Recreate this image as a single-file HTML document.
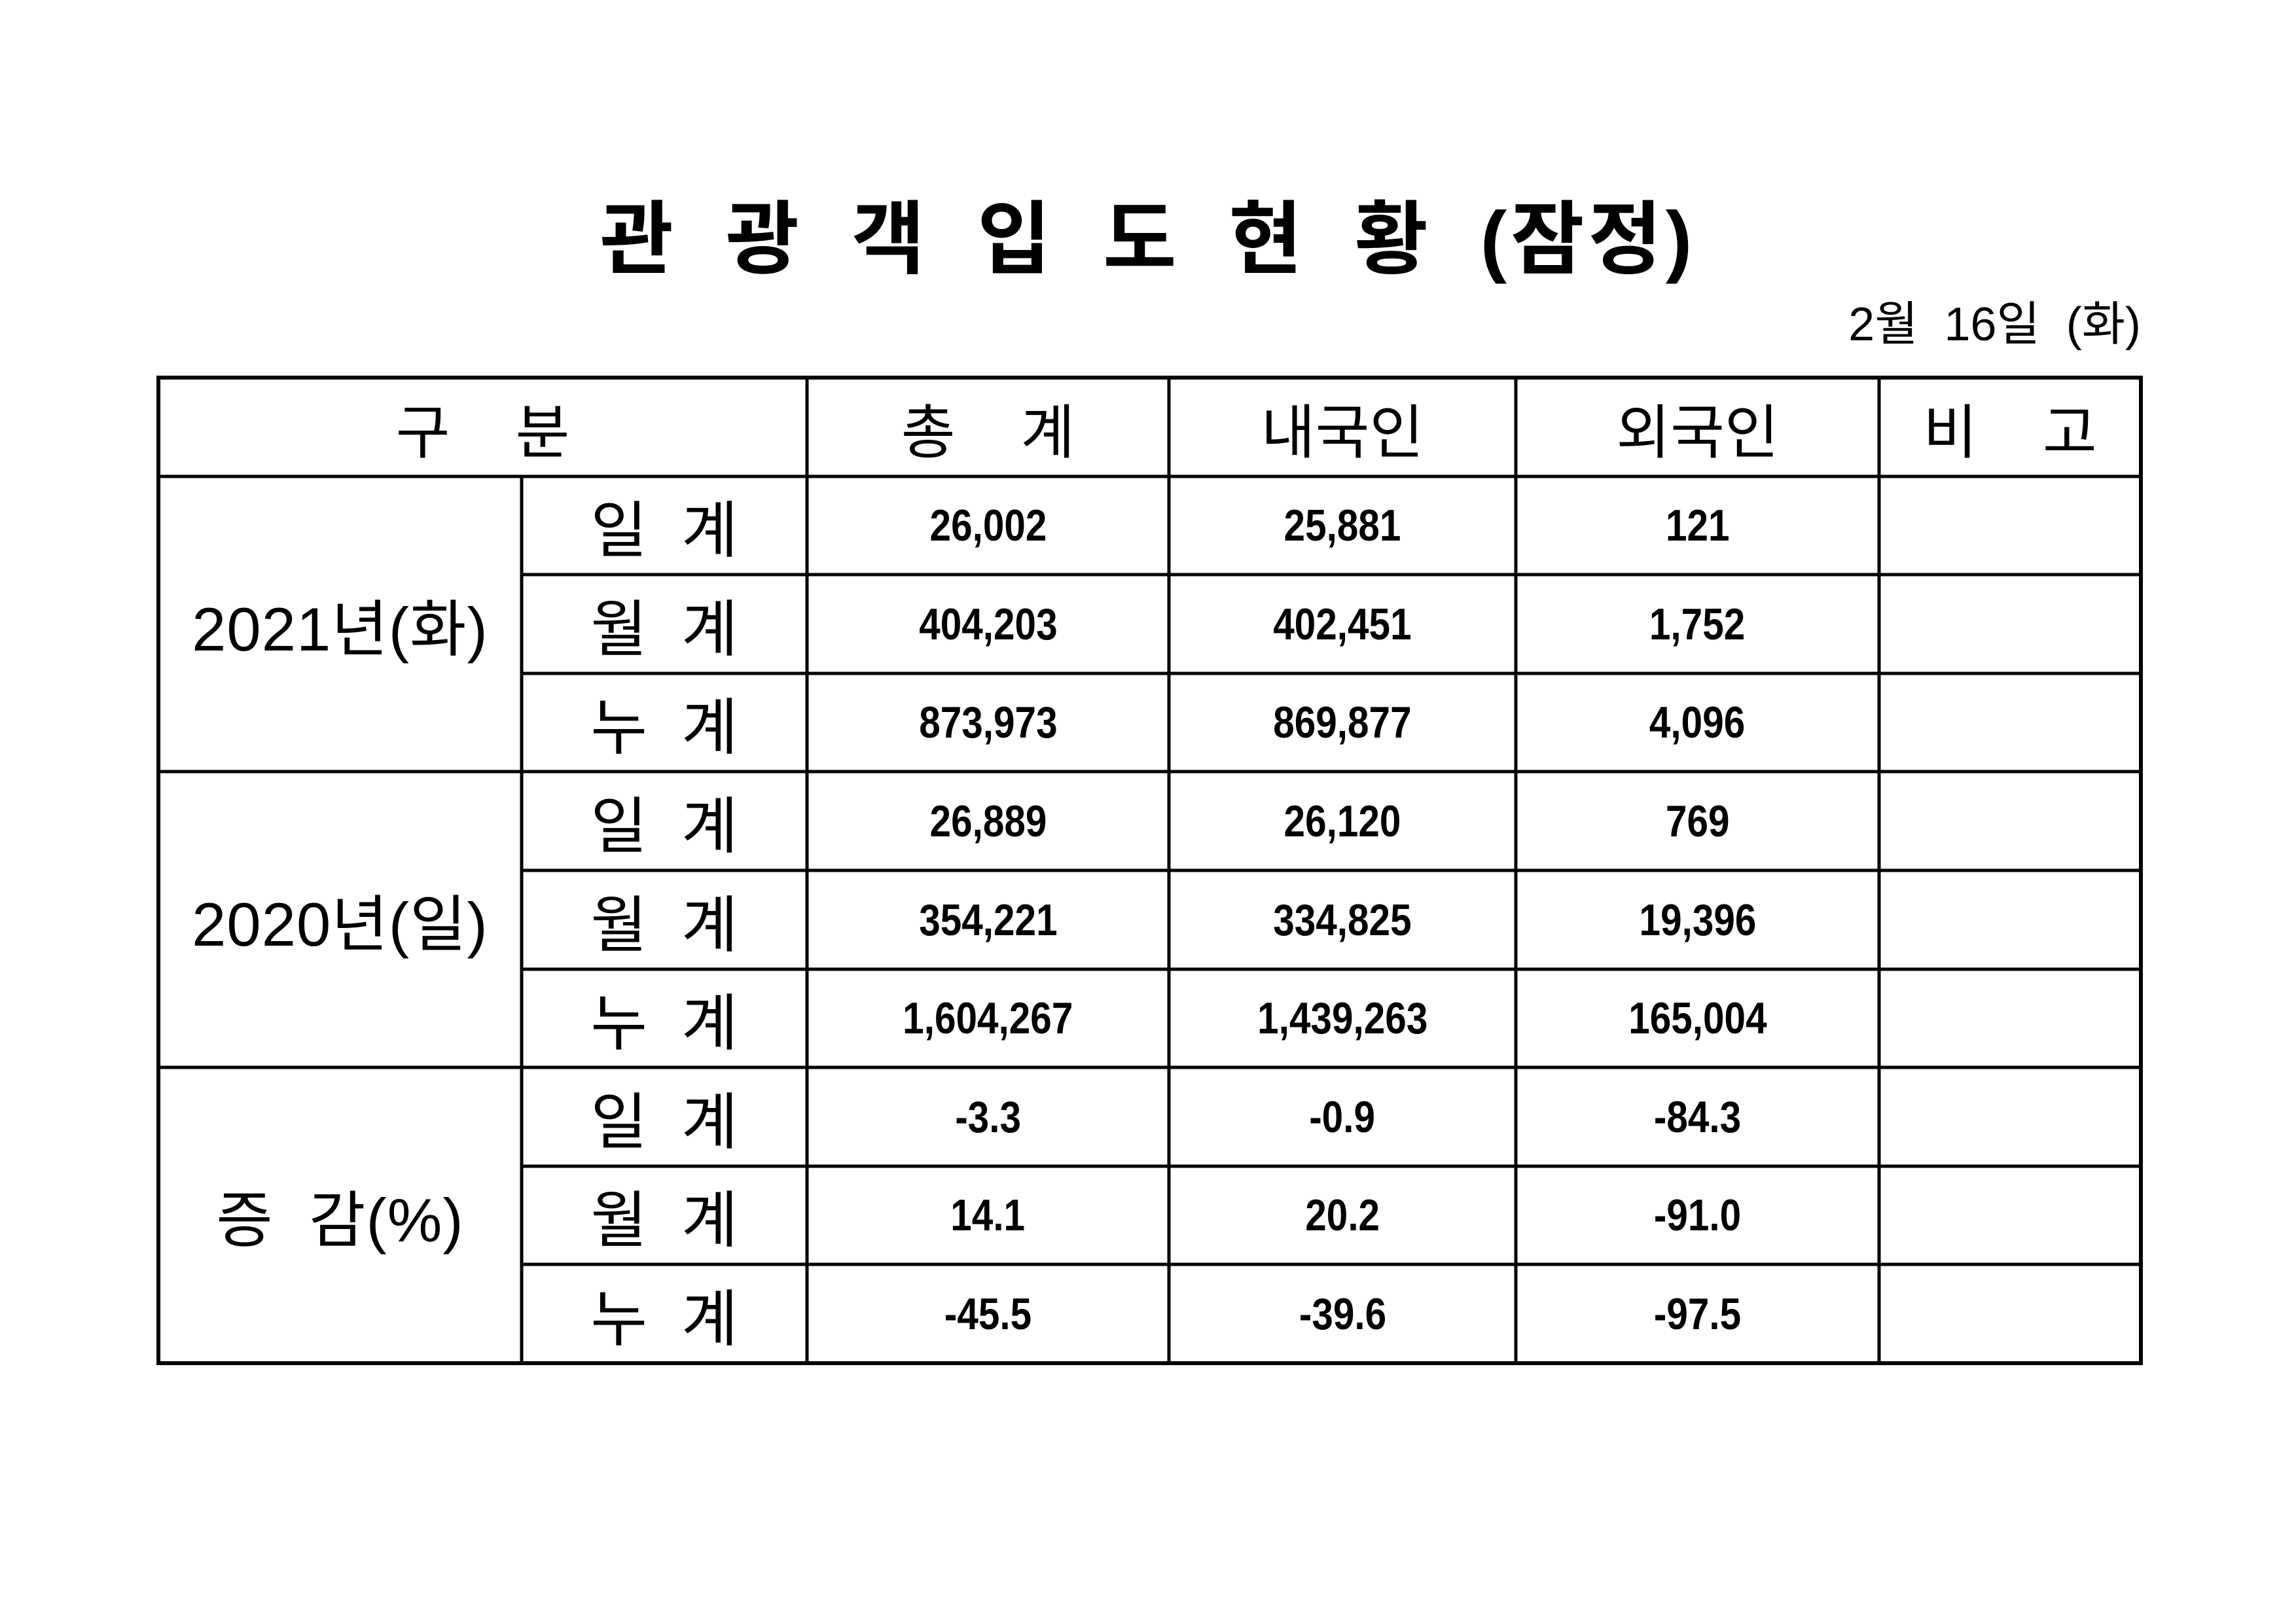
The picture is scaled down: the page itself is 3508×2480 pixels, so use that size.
<!DOCTYPE html>
<html><head><meta charset="utf-8"><style>
html,body{margin:0;padding:0;background:#fff;}
body{width:3508px;height:2480px;position:relative;overflow:hidden;font-family:"Liberation Sans","Noto Sans CJK KR","NanumGothic",sans-serif;color:#000;}
.t{position:absolute;display:flex;align-items:center;justify-content:center;white-space:pre;}
.h{font-size:90px;}
.l{font-size:94px;}
.g{font-size:94px;letter-spacing:1px;}
.n{font-size:68px;font-weight:bold;letter-spacing:0px;}
.n span{display:inline-block;transform:scaleX(0.86);}
</style></head><body>
<div class="t" style="left:0;width:3508px;top:280px;height:150px;font-size:122px;font-weight:bold;word-spacing:34px;letter-spacing:6px;">관 광 객 입 도 현 황 (잠정)</div>
<div class="t" style="left:2500px;width:771px;top:448px;height:80px;justify-content:flex-end;font-size:72px;">2월  16일  (화)</div>
<svg style="position:absolute;left:0;top:0" width="3508" height="2480">
<g stroke="#000" stroke-width="5" fill="none">
<rect x="242" y="577" width="3029" height="1506" stroke-width="6"/>
<line x1="242" y1="728" x2="3271" y2="728"/>
<line x1="797" y1="728" x2="797" y2="2083"/>
<line x1="1233" y1="577" x2="1233" y2="2083"/>
<line x1="1786" y1="577" x2="1786" y2="2083"/>
<line x1="2316" y1="577" x2="2316" y2="2083"/>
<line x1="2871" y1="577" x2="2871" y2="2083"/>
<line x1="797" y1="878" x2="3271" y2="878"/>
<line x1="797" y1="1029" x2="3271" y2="1029"/>
<line x1="242" y1="1179" x2="3271" y2="1179"/>
<line x1="797" y1="1330" x2="3271" y2="1330"/>
<line x1="797" y1="1481" x2="3271" y2="1481"/>
<line x1="242" y1="1631" x2="3271" y2="1631"/>
<line x1="797" y1="1782" x2="3271" y2="1782"/>
<line x1="797" y1="1932" x2="3271" y2="1932"/>
</g></svg>
<div class="t h" style="left:242px;width:991px;top:577px;height:151px;">구    분</div>
<div class="t h" style="left:1233px;width:553px;top:577px;height:151px;">총    계</div>
<div class="t h" style="left:1786px;width:530px;top:577px;height:151px;">내국인</div>
<div class="t h" style="left:2316px;width:555px;top:577px;height:151px;">외국인</div>
<div class="t h" style="left:2871px;width:400px;top:577px;height:151px;">비    고</div>

<div class="t g" style="left:242px;width:555px;top:728px;height:451px;">2021년(화)</div>
<div class="t g" style="left:242px;width:555px;top:1179px;height:452px;">2020년(일)</div>
<div class="t g" style="left:242px;width:555px;top:1631px;height:452px;">증  감(%)</div>

<div class="t l" style="left:797px;width:436px;top:728px;height:150px;">일  계</div>
<div class="t l" style="left:797px;width:436px;top:878px;height:151px;">월  계</div>
<div class="t l" style="left:797px;width:436px;top:1029px;height:150px;">누  계</div>
<div class="t l" style="left:797px;width:436px;top:1179px;height:151px;">일  계</div>
<div class="t l" style="left:797px;width:436px;top:1330px;height:151px;">월  계</div>
<div class="t l" style="left:797px;width:436px;top:1481px;height:150px;">누  계</div>
<div class="t l" style="left:797px;width:436px;top:1631px;height:151px;">일  계</div>
<div class="t l" style="left:797px;width:436px;top:1782px;height:150px;">월  계</div>
<div class="t l" style="left:797px;width:436px;top:1932px;height:151px;">누  계</div>

<div class="t n" style="left:1233px;width:553px;top:728px;height:150px;"><span>26,002</span></div>
<div class="t n" style="left:1786px;width:530px;top:728px;height:150px;"><span>25,881</span></div>
<div class="t n" style="left:2316px;width:555px;top:728px;height:150px;"><span>121</span></div>
<div class="t n" style="left:1233px;width:553px;top:878px;height:151px;"><span>404,203</span></div>
<div class="t n" style="left:1786px;width:530px;top:878px;height:151px;"><span>402,451</span></div>
<div class="t n" style="left:2316px;width:555px;top:878px;height:151px;"><span>1,752</span></div>
<div class="t n" style="left:1233px;width:553px;top:1029px;height:150px;"><span>873,973</span></div>
<div class="t n" style="left:1786px;width:530px;top:1029px;height:150px;"><span>869,877</span></div>
<div class="t n" style="left:2316px;width:555px;top:1029px;height:150px;"><span>4,096</span></div>
<div class="t n" style="left:1233px;width:553px;top:1179px;height:151px;"><span>26,889</span></div>
<div class="t n" style="left:1786px;width:530px;top:1179px;height:151px;"><span>26,120</span></div>
<div class="t n" style="left:2316px;width:555px;top:1179px;height:151px;"><span>769</span></div>
<div class="t n" style="left:1233px;width:553px;top:1330px;height:151px;"><span>354,221</span></div>
<div class="t n" style="left:1786px;width:530px;top:1330px;height:151px;"><span>334,825</span></div>
<div class="t n" style="left:2316px;width:555px;top:1330px;height:151px;"><span>19,396</span></div>
<div class="t n" style="left:1233px;width:553px;top:1481px;height:150px;"><span>1,604,267</span></div>
<div class="t n" style="left:1786px;width:530px;top:1481px;height:150px;"><span>1,439,263</span></div>
<div class="t n" style="left:2316px;width:555px;top:1481px;height:150px;"><span>165,004</span></div>
<div class="t n" style="left:1233px;width:553px;top:1631px;height:151px;"><span>-3.3</span></div>
<div class="t n" style="left:1786px;width:530px;top:1631px;height:151px;"><span>-0.9</span></div>
<div class="t n" style="left:2316px;width:555px;top:1631px;height:151px;"><span>-84.3</span></div>
<div class="t n" style="left:1233px;width:553px;top:1782px;height:150px;"><span>14.1</span></div>
<div class="t n" style="left:1786px;width:530px;top:1782px;height:150px;"><span>20.2</span></div>
<div class="t n" style="left:2316px;width:555px;top:1782px;height:150px;"><span>-91.0</span></div>
<div class="t n" style="left:1233px;width:553px;top:1932px;height:151px;"><span>-45.5</span></div>
<div class="t n" style="left:1786px;width:530px;top:1932px;height:151px;"><span>-39.6</span></div>
<div class="t n" style="left:2316px;width:555px;top:1932px;height:151px;"><span>-97.5</span></div>
</body></html>
